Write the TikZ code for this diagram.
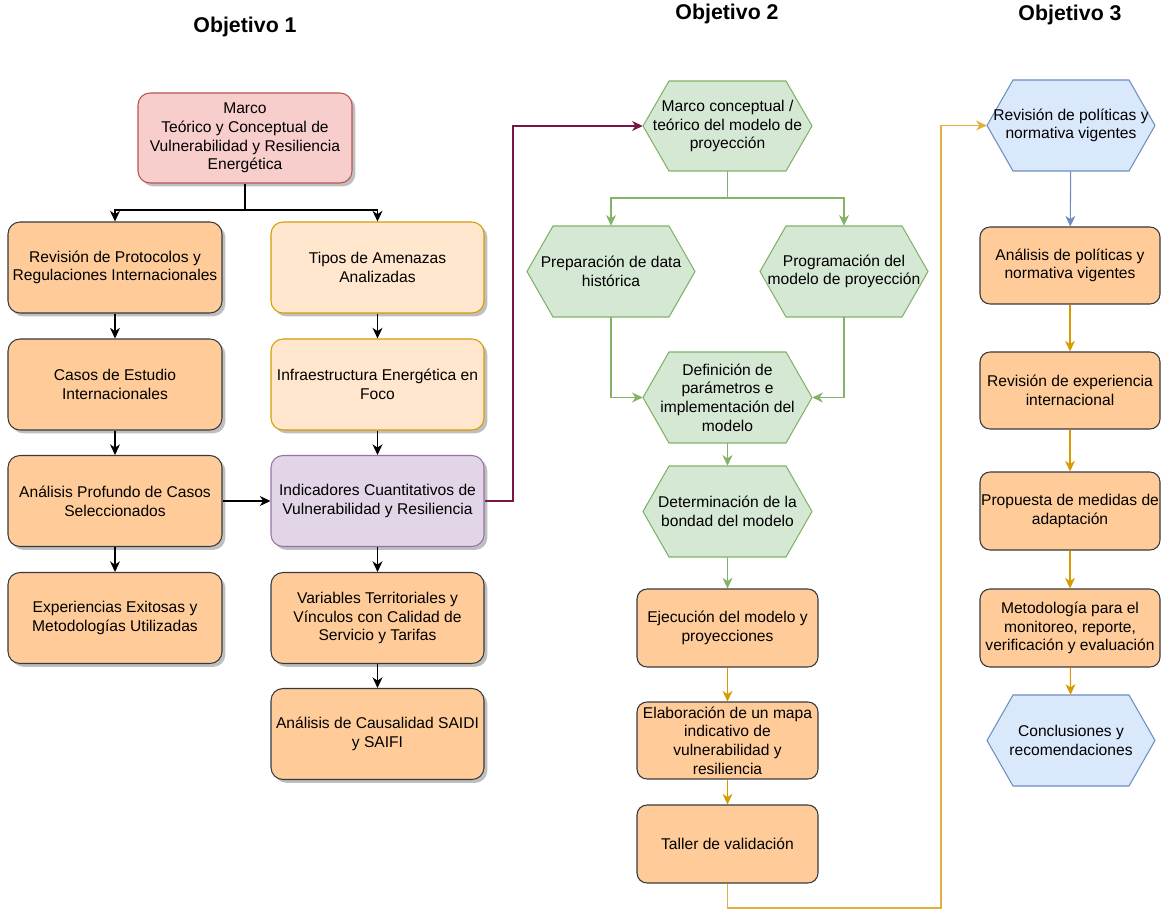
\documentclass[tikz,border=0pt]{standalone}
\usepackage{fontspec}
\setmainfont{Liberation Sans}
\usetikzlibrary{arrows.meta,shadows,calc}
\definecolor{redf}{HTML}{F8CECC}\definecolor{redl}{HTML}{B85450}
\definecolor{orf}{HTML}{FFCC99}\definecolor{orl}{HTML}{36393D}
\definecolor{ltf}{HTML}{FFE6CC}\definecolor{ltl}{HTML}{D79B00}
\definecolor{puf}{HTML}{E1D5E7}\definecolor{pul}{HTML}{9673A6}
\definecolor{grf}{HTML}{D5E8D4}\definecolor{grl}{HTML}{82B366}
\definecolor{blf}{HTML}{DAE8FC}\definecolor{bll}{HTML}{6C8EBF}
\definecolor{maroon}{HTML}{7A1646}
\definecolor{gold}{HTML}{D79B00}
\definecolor{goldlt}{HTML}{E0B040}
\newcommand\pxu[1]{#1*0.75pt}
\newcommand\hexnode[7]{%
  \path[#6] ({#2-#4/2},#3) -- ({#2-#4/2+26},{#3-#5/2}) -- ({#2+#4/2-26},{#3-#5/2}) -- ({#2+#4/2},#3) -- ({#2+#4/2-26},{#3+#5/2}) -- ({#2-#4/2+26},{#3+#5/2}) -- cycle;
  \node[txt, minimum width=\pxu{#4}, minimum height=\pxu{#5}] (#1) at (#2,#3) {#7};}
\begin{document}
\begin{tikzpicture}[x=0.75pt,y=-0.75pt,
  txt/.style={align=center, font=\fontsize{11.7}{14}\selectfont, text=black, inner sep=0pt, rectangle},
  box/.style={txt, draw, line width=0.8pt},
  shad/.style={drop shadow={shadow xshift=2.5pt, shadow yshift=-2.5pt, fill=black, opacity=0.25}},
  bone/.style={box, rounded corners=9pt, minimum width=\pxu{214}, minimum height=\pxu{91}, shad},
  bor/.style={bone, fill=orf, draw=orl},
  blt/.style={bone, fill=ltf, draw=ltl},
  btwo/.style={box, rounded corners=7.5pt, fill=orf, draw=orl, minimum width=\pxu{181}, minimum height=\pxu{78}},
  bthree/.style={box, rounded corners=7.5pt, fill=orf, draw=orl, minimum width=\pxu{180}, minimum height=\pxu{78}},
  hexg/.style={fill=grf, draw=grl, line width=0.8pt},
  hexb/.style={fill=blf, draw=bll, line width=0.8pt},
  ttl/.style={font=\fontsize{16}{19}\selectfont\bfseries, inner sep=0pt},
  arr/.style={line width=0.8pt, -{Stealth[length=8pt,width=7.5pt,inset=2.5pt]}},
  ln/.style={line width=0.8pt}]
\useasboundingbox (0,0) rectangle (1161,909);
% titles
\node[ttl] (t1) at (245,27) {Objetivo 1};
\node[ttl] (t2) at (727,14) {Objetivo 2};
\node[ttl] (t3) at (1070,15) {Objetivo 3};
% Objetivo 1
\node[bone, fill=redf, draw=redl, minimum height=\pxu{90}] (m1) at (245,138) {Marco\\Teórico y Conceptual de\\Vulnerabilidad y Resiliencia\\Energética};
\node[bor] (rev) at (115,267.5) {Revisión de Protocolos y\\Regulaciones Internacionales};
\node[blt, minimum width=\pxu{213}] (tip) at (377.5,267.5) {Tipos de Amenazas\\Analizadas};
\node[bor] (cas) at (115,384.5) {Casos de Estudio\\Internacionales};
\node[blt, minimum width=\pxu{213}] (inf) at (377.5,384.5) {Infraestructura Energética en\\Foco};
\node[bor] (apc) at (115,501) {Análisis Profundo de Casos\\Seleccionados};
\node[bone, fill=puf, draw=pul, minimum width=\pxu{213}] (ind) at (377.5,501) {Indicadores Cuantitativos de\\Vulnerabilidad y Resiliencia};
\node[bor] (exp) at (115,618) {Experiencias Exitosas y\\Metodologías Utilizadas};
\node[bor, minimum width=\pxu{213}] (var) at (377.5,618) {Variables Territoriales y\\Vínculos con Calidad de\\Servicio y Tarifas};
\node[bor, minimum width=\pxu{213}] (cau) at (377.5,734) {Análisis de Causalidad SAIDI\\y SAIFI};
% Objetivo 2
\hexnode{mc}{727.5}{126}{169}{90}{hexg}{Marco conceptual /\\teórico del modelo de\\proyección}
\hexnode{prep}{611}{271.5}{168}{91}{hexg}{Preparación de data\\histórica}
\hexnode{prog}{844}{271.5}{168}{91}{hexg}{Programación del\\modelo de proyección}
\hexnode{def}{727.5}{397.5}{169}{91}{hexg}{Definición de\\parámetros e\\implementación del\\modelo}
\hexnode{det}{727.5}{511.5}{169}{91}{hexg}{Determinación de la\\bondad del modelo}
\node[btwo] (eje) at (727.5,628) {Ejecución del modelo y\\proyecciones};
\node[btwo, minimum height=\pxu{77}] (ela) at (727.5,740.5) {Elaboración de un mapa\\indicativo de\\vulnerabilidad y\\resiliencia};
\node[btwo] (tal) at (727.5,844) {Taller de validación};
% Objetivo 3
\hexnode{rp}{1071}{125.5}{168}{91}{hexb}{Revisión de políticas y\\normativa vigentes}
\node[bthree, minimum height=\pxu{77}] (ap) at (1070,265.5) {Análisis de políticas y\\normativa vigentes};
\node[bthree, minimum height=\pxu{77}] (re) at (1070,390.5) {Revisión de experiencia\\internacional};
\node[bthree] (pr) at (1070,511) {Propuesta de medidas de\\adaptación};
\node[bthree] (met) at (1070,628) {Metodología para el\\monitoreo, reporte,\\verificación y evaluación};
\hexnode{con}{1071}{740.5}{168}{91}{hexb}{Conclusiones y\\recomendaciones}
% connectors Objetivo 1
\coordinate (s1) at (245,210);
\draw[ln] (m1.south) -- (s1);
\draw[arr] (s1) -| (rev.north);
\draw[arr] (s1) -| (tip.north);
\draw[arr] (rev) -- (cas);
\draw[arr] (cas) -- (apc);
\draw[arr] (apc) -- (exp);
\draw[arr] (tip) -- (inf);
\draw[arr] (inf) -- (ind);
\draw[arr] (ind) -- (var);
\draw[arr] (var) -- (cau);
\draw[arr] (apc) -- (ind);
\coordinate (c2) at (513,126);
\draw[arr, maroon] (ind.east) -| (c2) -- (mc.west);
% connectors Objetivo 2
\coordinate (s2) at (727.5,198);
\draw[ln, grl] (mc.south) -- (s2);
\draw[arr, grl] (s2) -| (prep.north);
\draw[arr, grl] (s2) -| (prog.north);
\draw[arr, grl] (prep.south) |- (def.west);
\draw[arr, grl] (prog.south) |- (def.east);
\draw[arr, grl] (def) -- (det);
\draw[arr, grl] (det) -- (eje);
\draw[arr, gold] (eje) -- (ela);
\draw[arr, gold] (ela) -- (tal);
\coordinate (c3) at (941,908);
\draw[arr, goldlt] (tal.south) |- (c3) |- (rp.west);
% connectors Objetivo 3
\draw[arr, bll] (rp) -- (ap);
\draw[arr, gold] (ap) -- (re);
\draw[arr, gold] (re) -- (pr);
\draw[arr, gold] (pr) -- (met);
\draw[arr, gold] (met) -- (con);
\end{tikzpicture}
\end{document}
